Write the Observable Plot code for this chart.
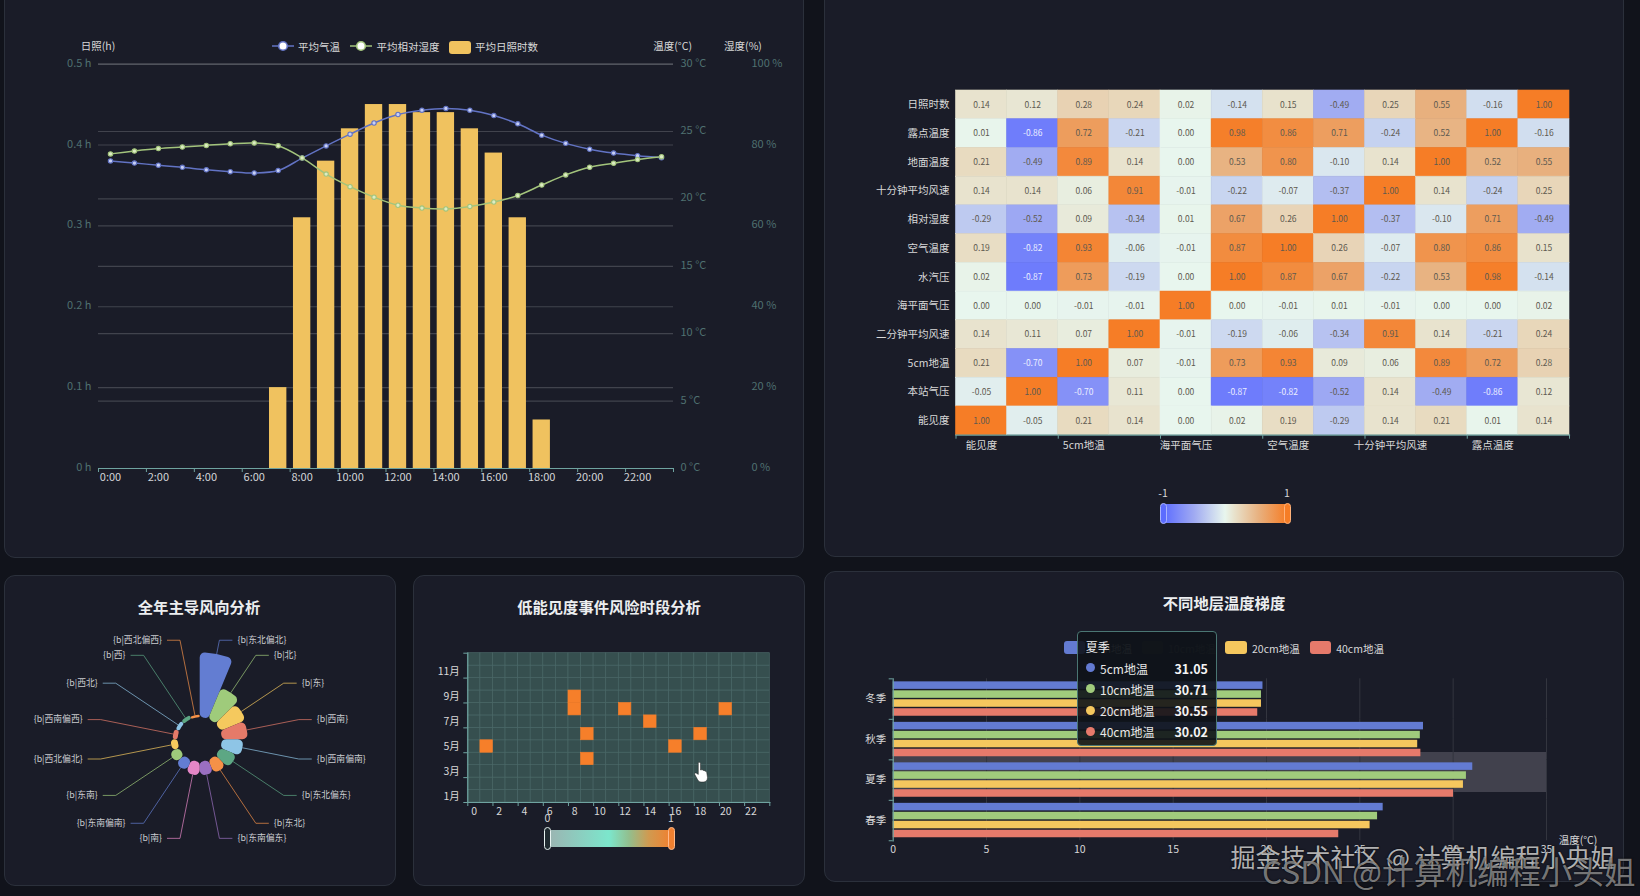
<!DOCTYPE html>
<html lang="zh">
<head>
<meta charset="utf-8">
<script src="https://cdn.jsdelivr.net/npm/d3@7"></script>
<script src="https://cdn.jsdelivr.net/npm/@observablehq/plot@0.6"></script>
<style>
html,body{margin:0;padding:0;background:#11131b;}
#root{position:relative;width:1640px;height:896px;overflow:hidden;background:#11131b;font-family:"Noto Sans CJK SC","Noto Sans",sans-serif;color:#d8d8d8;}
.panel{position:absolute;box-sizing:border-box;background:#1a1c28;border:1px solid #2b303b;border-radius:11px;}
.abs{position:absolute;white-space:nowrap;}
#root svg{position:absolute;overflow:visible;background:transparent;}
</style>
</head>
<body>
<div id="root"></div>
<script>
// ---------- chart 1: daily cycle
const hours = d3.range(24).map(h => h + ":00");
const sunshine = [0,0,0,0,0,0,0,0.10,0.31,0.38,0.42,0.45,0.45,0.44,0.44,0.42,0.39,0.31,0.06,0,0,0,0,0];
const temperature = [22.82,22.66,22.5,22.34,22.16,22.02,21.92,22.1,23.03,23.93,24.8,25.63,26.26,26.58,26.71,26.58,26.18,25.57,24.73,24.12,23.69,23.4,23.2,23.06];
const humidity = [77.8,78.5,79.1,79.5,79.9,80.3,80.5,79.8,76.8,72.8,69.7,67.1,65.1,64.4,64.2,64.8,65.9,67.5,70.1,72.6,74.5,75.5,76.4,77.1];
const sunTicks = [0,0.1,0.2,0.3,0.4,0.5];
const tempTicks = [0,5,10,15,20,25,30];
const humTicks = [0,20,40,60,80,100];
// ---------- chart 2: correlation heatmap
const heatColumns = ["能见度","本站气压","5cm地温","二分钟平均风速","海平面气压","水汽压","空气温度","相对湿度","十分钟平均风速","地面温度","露点温度","日照时数"];
const heatRows = ["日照时数","露点温度","地面温度","十分钟平均风速","相对湿度","空气温度","水汽压","海平面气压","二分钟平均风速","5cm地温","本站气压","能见度"];
const heatValues = [
 [0.14,0.12,0.28,0.24,0.02,-0.14,0.15,-0.49,0.25,0.55,-0.16,1.00],
 [0.01,-0.86,0.72,-0.21,0.00,0.98,0.86,0.71,-0.24,0.52,1.00,-0.16],
 [0.21,-0.49,0.89,0.14,0.00,0.53,0.80,-0.10,0.14,1.00,0.52,0.55],
 [0.14,0.14,0.06,0.91,-0.01,-0.22,-0.07,-0.37,1.00,0.14,-0.24,0.25],
 [-0.29,-0.52,0.09,-0.34,0.01,0.67,0.26,1.00,-0.37,-0.10,0.71,-0.49],
 [0.19,-0.82,0.93,-0.06,-0.01,0.87,1.00,0.26,-0.07,0.80,0.86,0.15],
 [0.02,-0.87,0.73,-0.19,0.00,1.00,0.87,0.67,-0.22,0.53,0.98,-0.14],
 [0.00,0.00,-0.01,-0.01,1.00,0.00,-0.01,0.01,-0.01,0.00,0.00,0.02],
 [0.14,0.11,0.07,1.00,-0.01,-0.19,-0.06,-0.34,0.91,0.14,-0.21,0.24],
 [0.21,-0.70,1.00,0.07,-0.01,0.73,0.93,0.09,0.06,0.89,0.72,0.28],
 [-0.05,1.00,-0.70,0.11,0.00,-0.87,-0.82,-0.52,0.14,-0.49,-0.86,0.12],
 [1.00,-0.05,0.21,0.14,0.00,0.02,0.19,-0.29,0.14,0.21,0.01,0.14]
];
const heatStops = [-1,-0.5,0,0.15,0.55,1];
const heatRamp = ["#5c6cff","#a0aaf2","#e8f6ee","#e8e2cc","#e8b07e","#f67d26"];
// ---------- chart 3: wind rose
const windDirections = ["东北偏北","北","东","西南","西南偏南","东北偏东","东北","东南偏东","南","东南偏南","东南","西北偏北","西南偏西","西北","西","西北偏西"];
const windValues = [65,34,28,26,21.5,18,15,14,14,12,11,7,5,4,4,2.5];
const windColors = ["#637dd2","#9fcb7b","#f5c95e","#e57a69","#8ec5e6","#5da784","#f59148","#9a6fc1","#e586c6","#637dd2","#9fcb7b","#f5c95e","#e57a69","#8ec5e6","#5da784","#f59148"];
// ---------- chart 4: low-visibility risk
const riskHours = d3.range(24);
const riskMonths = d3.range(1,13).map(m => m + "月");
const riskHourList = [1,8,8,9,9,12,14,16,18,20];
const riskMonthList = ["5月","8月","9月","6月","4月","8月","7月","5月","6月","8月"];
// ---------- chart 5: soil temperature by depth
const seasons = ["冬季","秋季","夏季","春季"];
const depths = ["5cm地温","10cm地温","20cm地温","40cm地温"];
const depthColors = ["#637bd2","#a0cb7c","#f5c75e","#e67a6b"];
const winterTemps = [19.81,19.73,19.73,19.53];
const autumnTemps = [28.41,28.24,28.10,28.27];
const summerTemps = [31.05,30.71,30.55,30.02];
const springTemps = [26.25,25.95,25.55,23.87];

const FONT = '"Noto Sans CJK SC","Noto Sans",sans-serif';
const root = document.getElementById("root");
function panel(x,y,w,h){const e=document.createElement("div");e.className="panel";Object.assign(e.style,{left:x+"px",top:y+"px",width:w+"px",height:h+"px"});root.appendChild(e);}
function label(text,x,y,style={},anchor="start"){
  const e=document.createElement("div");e.className="abs";e.textContent=text;
  const tx=anchor==="middle"?"-50%":anchor==="end"?"-100%":"0";
  Object.assign(e.style,{left:x+"px",top:y+"px",transform:`translate(${tx},-50%)`,fontSize:"10.5px",color:"#d8d8d8",...style});
  root.appendChild(e);return e;}
function box(x,y,w,h,style={}){const e=document.createElement("div");e.className="abs";Object.assign(e.style,{left:x+"px",top:y+"px",width:w+"px",height:h+"px",boxSizing:"border-box",...style});root.appendChild(e);return e;}
function place(svg,x,y){svg.style.left=x+"px";svg.style.top=y+"px";root.appendChild(svg);}
const plotStyle={background:"transparent",fontFamily:FONT,overflow:"visible",fontSize:"10.5px"};

panel(4,-40,800,598); panel(824,-40,800,597);
panel(4,575,392,311); panel(413,575,392,311); panel(824,571,800,311);

// ===== chart 1
const dayRows = hours.map((h,i)=>({hour:h,sun:sunshine[i],temp:temperature[i],hum:humidity[i]}));
const tempToY = t => t/30*0.5, humToY = p => p/100*0.5;
const evenHours = hours.filter((h,i)=>i%2===0);
const AXIS_TEAL="#6fa3a0", GRID="#41434d", Y_LABEL="#4f7070";
place(Plot.plot({
  width:820,height:560,marginTop:63.6,marginBottom:92,marginLeft:98,marginRight:147,style:plotStyle,
  x:{type:"band",domain:hours,padding:0,round:false,axis:null},
  y:{domain:[0,0.5],axis:null},
  marks:[
    Plot.ruleY(sunTicks.slice(1,-1),{stroke:GRID,strokeWidth:1.2}),
    Plot.ruleY(tempTicks.slice(1,-1).map(tempToY),{stroke:GRID,strokeWidth:1.2}),
    Plot.ruleY([0.5],{stroke:"#62646c",strokeWidth:1.3}),
    Plot.barY(dayRows.filter(d=>d.sun>0),{x:"hour",y:"sun",fill:"#f0c25f",insetLeft:3.3,insetRight:3.3}),
    Plot.ruleY([0],{stroke:AXIS_TEAL,strokeWidth:1.2}),
    Plot.axisX({ticks:evenHours,anchor:"bottom",tickSize:0,tickPadding:5,fontSize:11,fill:"#d4d6d8",label:null}),
    Plot.axisX({ticks:evenHours,anchor:"bottom",tickSize:4,fill:"none",stroke:AXIS_TEAL,dx:-11.98,label:null}),
    Plot.axisX({ticks:[hours[23]],anchor:"bottom",tickSize:4,fill:"none",stroke:AXIS_TEAL,dx:11.98,label:null}),
    Plot.axisY({ticks:sunTicks,tickFormat:d=>d+" h",anchor:"left",tickSize:0,tickPadding:7,dy:-1,fontSize:11,fill:Y_LABEL,label:null}),
    Plot.axisY({ticks:tempTicks.map(tempToY),tickFormat:d=>Math.round(d/0.5*30)+" °C",anchor:"right",tickSize:0,tickPadding:7,dy:-1,fontSize:11,fill:Y_LABEL,label:null}),
    Plot.axisY({ticks:humTicks.map(humToY),tickFormat:d=>Math.round(d/0.5*100)+" %",anchor:"right",tickSize:0,tickPadding:78,dy:-1,fontSize:11,fill:Y_LABEL,label:null}),
    Plot.line(dayRows,{x:"hour",y:d=>tempToY(d.temp),stroke:"#6273c4",strokeWidth:1.5,curve:"catmull-rom"}),
    Plot.line(dayRows,{x:"hour",y:d=>humToY(d.hum),stroke:"#a3c47c",strokeWidth:1.5,curve:"catmull-rom"}),
    Plot.dot(dayRows,{x:"hour",y:d=>tempToY(d.temp),r:2.2,fill:"#c8d0f4",stroke:"#6273c4",strokeWidth:1.1}),
    Plot.dot(dayRows,{x:"hour",y:d=>humToY(d.hum),r:2.2,fill:"#dcecc4",stroke:"#a3c47c",strokeWidth:1.1})
  ]
}),0,0);
label("日照(h)",98,44.6,{fontSize:"10.5px"},"middle");
label("温度(°C)",672.6,44.6,{},"middle");
label("湿度(%)",743,44.6,{},"middle");
function lineKey(x,y,color){
  const s=d3.create("svg").attr("width",22).attr("height",12);
  s.append("line").attr("x1",0).attr("x2",22).attr("y1",6).attr("y2",6).attr("stroke",color).attr("stroke-width",1.5);
  s.append("circle").attr("cx",11).attr("cy",6).attr("r",4.3).attr("fill","#fff").attr("stroke",color).attr("stroke-width",1.6);
  place(s.node(),x,y-6);
}
lineKey(272,46.4,"#6273c4"); label("平均气温",298,46.4);
lineKey(350,46.4,"#a3c47c"); label("平均相对湿度",376.6,46.4);
box(449,41,22,12.5,{background:"#f0c25f",borderRadius:"3px"}); label("平均日照时数",475,46.4);

// ===== chart 2
const heatCells = heatRows.flatMap((r,i)=>heatColumns.map((c,j)=>({row:r,col:c,v:heatValues[i][j]})));
const evenColumns = heatColumns.filter((c,i)=>i%2===0);
const heatStep = 613.5/12;
place(Plot.plot({
  width:800,height:400,marginTop:30,marginBottom:25.3,marginLeft:131.5,marginRight:55,style:plotStyle,
  x:{type:"band",domain:heatColumns,padding:0,round:false,axis:null},
  y:{type:"band",domain:heatRows,padding:0,round:false,axis:null},
  color:{type:"linear",domain:heatStops,range:heatRamp,interpolate:"rgb"},
  marks:[
    Plot.cell(heatCells,{x:"col",y:"row",fill:"v",stroke:"v",strokeWidth:0.6}),
    Plot.text(heatCells.filter(d=>d.v>-0.6),{x:"col",y:"row",text:d=>d.v.toFixed(2),fill:"#5e5a50",fontSize:8.5}),
    Plot.text(heatCells.filter(d=>d.v<=-0.6),{x:"col",y:"row",text:d=>d.v.toFixed(2),fill:"#eceeff",fontSize:8.5}),
    Plot.frame({anchor:"bottom",stroke:AXIS_TEAL,strokeWidth:1.2}),
    Plot.axisX({ticks:evenColumns,anchor:"bottom",tickSize:0,tickPadding:6,fontSize:10.5,fill:"#d8d8d8",label:null}),
    Plot.axisX({ticks:evenColumns,anchor:"bottom",tickSize:4,fill:"none",stroke:AXIS_TEAL,dx:-heatStep/2,label:null}),
    Plot.axisX({ticks:[heatColumns[11]],anchor:"bottom",tickSize:4,fill:"none",stroke:AXIS_TEAL,dx:heatStep/2,label:null}),
    Plot.axisY({anchor:"left",tickSize:0,tickPadding:6.5,fontSize:10.5,fill:"#d8d8d8",label:null})
  ]
}),824,60);
const heatGradient = heatStops.map((s,i)=>`${heatRamp[i]} ${(s+1)*50}%`).join(",");
label("-1",1163,491.7,{},"middle"); label("1",1287,491.7,{},"middle");
box(1163,504.3,124,18.4,{background:`linear-gradient(90deg,${heatGradient})`});
box(1159.5,502.7,7,21.6,{background:heatRamp[0],border:"1px solid #aab4ff",borderRadius:"3.5px"});
box(1283.5,502.7,7,21.6,{background:heatRamp[5],border:"1px solid #ffb27a",borderRadius:"3.5px"});

// ===== chart 3
label("全年主导风向分析",199,606,{fontSize:"15.3px",fontWeight:"700",color:"#eceef0"},"middle");
const windRows = windDirections.map((d,i)=>({dir:d,value:windValues[i]}));
const roseCx=195.7, roseCy=164.3, roseInner=22, roseElbow=101;
place(Plot.plot({
  width:392,height:311,margin:0,style:plotStyle,
  x:{type:"band",domain:windDirections,axis:null},
  y:{type:"linear",domain:[0,65],range:[roseInner,87],axis:null},
  color:{domain:windDirections,range:windColors},
  marks:[
    Plot.dot(windRows,{x:"dir",y:"value",fill:"dir",render(index,scales,values){
      const g=d3.create("svg:g").attr("transform",`translate(${roseCx},${roseCy})`);
      const step=2*Math.PI/index.length;
      const arc=d3.arc().innerRadius(roseInner).cornerRadius(5);
      for(const i of index){
        const r=values.y[i],color=values.fill[i],a0=i*step,a1=(i+1)*step,m=(a0+a1)/2;
        const sx=Math.sin(m),cy=-Math.cos(m),side=sx>=0?1:-1;
        g.append("polyline").attr("fill","none").attr("stroke",color).attr("stroke-opacity",0.7).attr("stroke-width",1)
          .attr("points",[[sx*r,cy*r],[sx*roseElbow,cy*roseElbow],[sx*roseElbow+side*13,cy*roseElbow]].join(" "));
        g.append("path").attr("fill",color).attr("d",arc.outerRadius(r)({startAngle:a0,endAngle:a1}));
        g.append("text").attr("x",sx*roseElbow+side*18).attr("y",cy*roseElbow).attr("dy","0.32em")
          .attr("text-anchor",side>0?"start":"end").attr("fill","#c9cbcf").attr("font-size",8.8)
          .text(`{b|${windDirections[i]}}`);
      }
      return g.node();
    }})
  ]
}),4,575);

// ===== chart 4
label("低能见度事件风险时段分析",609,606,{fontSize:"15.3px",fontWeight:"700",color:"#eceef0"},"middle");
const riskSet = new Set(riskHourList.map((h,i)=>h+"|"+riskMonthList[i]));
const riskCells = riskHours.flatMap(h=>riskMonths.map(m=>({hour:h,month:m,v:riskSet.has(h+"|"+m)?1:0})));
const riskStepX = 302/24, riskStepY = 149.3/12;
const evenRiskHours = riskHours.filter(h=>h%2===0);
const oddMonths = riskMonths.filter((m,i)=>i%2===0);
place(Plot.plot({
  width:392,height:311,marginTop:77.7,marginBottom:84,marginLeft:54.3,marginRight:35.7,style:plotStyle,
  x:{type:"band",domain:riskHours,padding:0,round:false,axis:null},
  y:{type:"band",domain:[...riskMonths].reverse(),padding:0,round:false,axis:null},
  color:{type:"linear",domain:[0,1],range:["#364f4f","#f67f2a"]},
  marks:[
    Plot.cell(riskCells.filter(d=>d.v===0),{x:"hour",y:"month",fill:"v",stroke:"#4b6968",strokeWidth:0.7}),
    Plot.cell(riskCells.filter(d=>d.v===1),{x:"hour",y:"month",fill:"v",stroke:"v",strokeWidth:0.6}),
    Plot.frame({anchor:"bottom",stroke:AXIS_TEAL,strokeWidth:1.2}),
    Plot.frame({anchor:"left",stroke:AXIS_TEAL,strokeWidth:1.2}),
    Plot.axisX({ticks:evenRiskHours,anchor:"bottom",tickSize:0,tickPadding:5,fontSize:10.5,fill:"#d8d8d8",label:null}),
    Plot.axisX({ticks:evenRiskHours,anchor:"bottom",tickSize:4,fill:"none",stroke:AXIS_TEAL,dx:-riskStepX/2,label:null}),
    Plot.axisX({ticks:[23],anchor:"bottom",tickSize:4,fill:"none",stroke:AXIS_TEAL,dx:riskStepX/2,label:null}),
    Plot.axisY({ticks:oddMonths,anchor:"left",tickSize:0,tickPadding:8,fontSize:10.5,fill:"#d8d8d8",label:null}),
    Plot.axisY({ticks:oddMonths,anchor:"left",tickSize:4,fill:"none",stroke:AXIS_TEAL,dy:riskStepY/2,label:null}),
    Plot.axisY({ticks:["12月"],anchor:"left",tickSize:4,fill:"none",stroke:AXIS_TEAL,dy:-riskStepY/2,label:null})
  ]
}),413,575);
label("0",547.3,817,{},"middle"); label("1",671,817,{},"middle");
box(547.3,830,123.7,17,{background:"linear-gradient(90deg,#9cb3b1 0%,#7ce6cc 50%,#92bf8e 66%,#d09a50 82%,#f08030 100%)"});
box(543.8,827,7,23,{background:"#1f2a30",border:"1.2px solid #e6f2f0",borderRadius:"3.5px"});
box(667.5,827,7,23,{background:"#f08030",border:"1px solid #ffb98a",borderRadius:"3.5px"});
const hand=d3.create("svg").attr("width",16).attr("height",22).attr("viewBox","0 0 16 22");
hand.append("path").attr("fill","#fff").attr("stroke","#222").attr("stroke-width",0.5)
  .attr("d","M4.5 1.5c1-.6 2 .1 2 1.2v6.3l1-.2c.9-.2 1.5.1 1.7.7.8-.3 1.5 0 1.8.7.8-.2 1.5.2 1.7 1l.8 5.2c.1 2.6-1.5 4.6-4.2 4.6H7c-1.5 0-2.4-.8-3.2-2L.8 13.6c-.5-.9.3-2 1.3-1.6l2.2 1.4V2.7c0-.5 0-1 .2-1.2z");
place(hand.node(),694,761);

// ===== chart 5
label("不同地层温度梯度",1224,602,{fontSize:"15.3px",fontWeight:"700",color:"#eceef0"},"middle");
box(892.7,751.7,653.3,40.6,{background:"#41414d"});
const soilRows = [[seasons[0],winterTemps],[seasons[1],autumnTemps],[seasons[2],summerTemps],[seasons[3],springTemps]]
  .flatMap(([s,arr])=>arr.map((v,i)=>({season:s,depth:depths[i],v})));
const soilStep = 161.7/4;
place(Plot.plot({
  width:800,height:311,marginTop:107.3,marginBottom:41.7,marginLeft:68.7,marginRight:78,style:plotStyle,
  x:{domain:[0,35],axis:null},
  y:{type:"band",domain:depths,paddingInner:0.16,paddingOuter:0.34,round:false,axis:null},
  fy:{domain:seasons,padding:0,round:false,axis:null},
  color:{domain:depths,range:depthColors},
  marks:[
    Plot.gridX({ticks:[5,10,15,20,25,30,35],stroke:"#33353f",strokeOpacity:1}),
    Plot.barX(soilRows,{x:"v",y:"depth",fy:"season",fill:"depth"}),
    Plot.frame({anchor:"left",stroke:AXIS_TEAL,strokeWidth:1.2}),
    Plot.axisFy({anchor:"left",tickSize:0,tickPadding:7,fontSize:10.5,fill:"#d8d8d8",label:null}),
    Plot.axisFy({anchor:"left",tickSize:4,fill:"none",stroke:AXIS_TEAL,dy:-soilStep/2,label:null}),
    Plot.axisFy({ticks:[seasons[3]],anchor:"left",tickSize:4,fill:"none",stroke:AXIS_TEAL,dy:soilStep/2,label:null}),
    Plot.axisX({ticks:[0,5,10,15,20,25,30,35],anchor:"bottom",tickSize:0,tickPadding:5,fontSize:10.5,fill:"#d8d8d8",label:null})
  ]
}),824,571);
label("温度(°C)",1578,838.7,{},"middle");
box(1064,641,21,12.7,{background:depthColors[0],borderRadius:"3px"}); label(depths[0],1090,647.5,{color:"#8a8c92"});
box(1141.6,641,21.4,12.7,{background:"#2d302f",borderRadius:"3px"}); label(depths[1],1168,647.5,{color:"#45474c"});
box(1225.3,641,21.7,12.7,{background:depthColors[2],borderRadius:"3px"}); label(depths[2],1252,647.5);
box(1309.5,641,21.7,12.7,{background:depthColors[3],borderRadius:"3px"}); label(depths[3],1336.2,647.5);
// tooltip
box(1076.8,631,140.7,114.7,{background:"rgba(14,19,24,0.9)",border:"1px solid #4a7673",borderRadius:"4px"});
label(seasons[2],1085.7,646,{fontSize:"12px",color:"#f0f0f0"});
[667.7,688.7,710,731].forEach((y,i)=>{
  box(1085.7,y-4.5,9,9,{background:depthColors[i],borderRadius:"50%"});
  label(depths[i],1100,y,{fontSize:"12px",color:"#e8e8e8"});
  label(summerTemps[i].toFixed(2),1208,y,{fontSize:"12.5px",fontWeight:"700",color:"#f4f4f4"},"end");
});
// watermarks
label("掘金技术社区 @ 计算机编程小央姐",1230.6,855.5,{fontSize:"25px",color:"rgba(225,225,225,0.8)",textShadow:"0 0 2px #000"});
label("CSDN @计算机编程小头姐",1262,870,{fontSize:"31.7px",color:"rgba(215,215,215,0.55)",textShadow:"0 0 2px #000"});
</script>
</body>
</html>
